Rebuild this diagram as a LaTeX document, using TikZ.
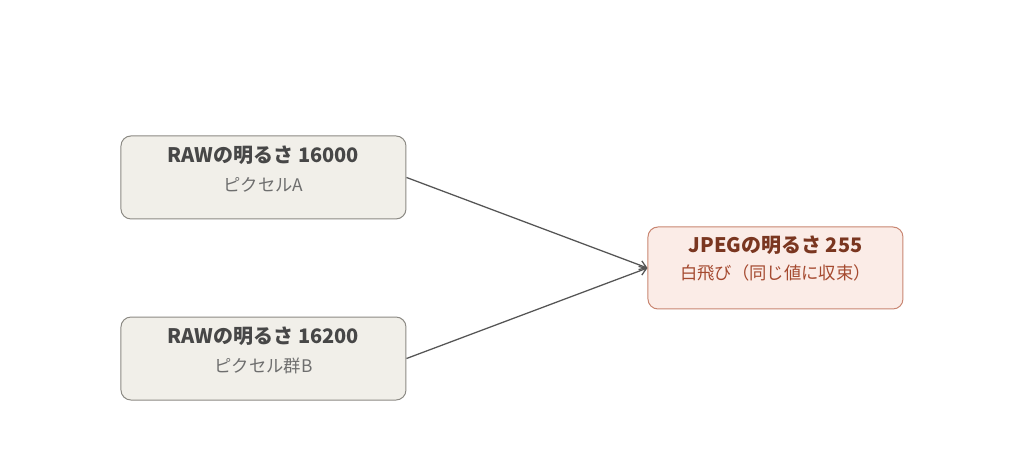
\documentclass[tikz,border=0pt]{standalone}
\usepackage{fontspec}
\setmainfont{Noto Sans CJK JP}
\usetikzlibrary{arrows.meta}
\definecolor{rawfill}{HTML}{F1EFE9}
\definecolor{rawdraw}{HTML}{8C8A84}
\definecolor{rawtitle}{HTML}{474747}
\definecolor{rawsub}{HTML}{6E6E6E}
\definecolor{jpgfill}{HTML}{FBECE7}
\definecolor{jpgdraw}{HTML}{C98672}
\definecolor{jpgtitle}{HTML}{7A3620}
\definecolor{jpgsub}{HTML}{A54A30}
\definecolor{arrowc}{HTML}{555555}
\tikzset{
  rawbox/.style={draw=rawdraw, fill=rawfill, rounded corners=7.5pt, line width=0.75pt,
    minimum width=213.75pt, minimum height=62.25pt, inner sep=0pt},
  jpgbox/.style={draw=jpgdraw, fill=jpgfill, rounded corners=7.5pt, line width=0.75pt,
    minimum width=191.25pt, minimum height=61.5pt, inner sep=0pt},
  ttl/.style={inner sep=0pt, font=\bfseries\fontsize{15}{18}\selectfont},
  sub/.style={inner sep=0pt, font=\fontsize{13}{16}\selectfont},
  conn/.style={draw=arrowc, line width=0.95pt, -{Straight Barb[length=5pt,width=7pt]}}
}
\begin{document}
\begin{tikzpicture}[x=1pt,y=1pt]
\useasboundingbox[fill=white] (0,0) rectangle (768,339);
\node[rawbox] (a) at (197.6,205.9) {};
\node[rawbox] (b) at (197.6,70.1) {};
\node[jpgbox] (c) at (581.6,138) {};
\node[ttl, text=rawtitle] (at) at ([yshift=16.5pt]a.center) {RAWの明るさ 16000};
\node[sub, text=rawsub] (as) at ([yshift=-5.6pt]a.center) {ピクセルA};
\node[ttl, text=rawtitle] (bt) at ([yshift=16.5pt]b.center) {RAWの明るさ 16200};
\node[sub, text=rawsub] (bs) at ([yshift=-5.6pt]b.center) {ピクセル群B};
\node[ttl, text=jpgtitle] (ct) at ([yshift=16.9pt]c.center) {JPEGの明るさ 255};
\node[sub, text=jpgsub] (cs) at ([yshift=-3.8pt]c.center) {白飛び（同じ値に収束）};
\draw[conn] (a.east) -- (c.west);
\draw[conn] (b.east) -- (c.west);
\end{tikzpicture}
\end{document}
